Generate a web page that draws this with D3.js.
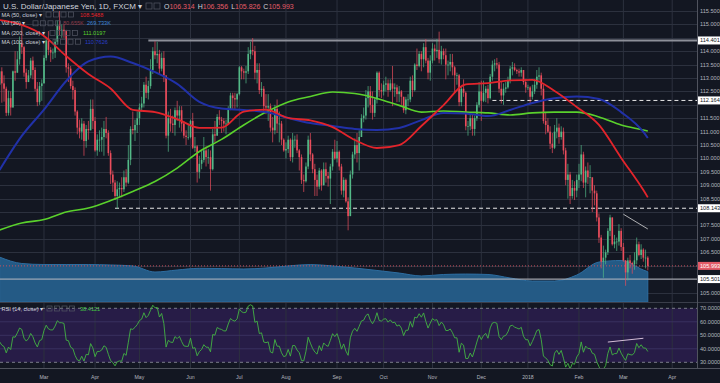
<!DOCTYPE html>
<html>
<head>
<meta charset="utf-8">
<script src="https://cdn.jsdelivr.net/npm/d3@7"></script>
<style>
  body { margin: 0; background: #131722; }
  svg { display: block; font-family: "Liberation Sans", Arial, sans-serif; }
</style>
</head>
<body>
<div class="viz"></div>
<script>
// daily USDJPY bars, Feb 1 2017 .. Mar 16 2018 (weekdays)
const firstOpen = 112.75;
const closes = [
  // Feb 2017
  113.25,112.80,112.60,111.70,112.25,111.90,113.25,113.20,113.70,114.30,114.15,113.20,112.85,113.10,113.65,113.30,112.60,112.10,112.70,112.80,
  // Mar
  113.75,114.40,114.05,113.95,113.95,114.35,114.95,114.80,114.80,114.75,113.40,113.35,112.70,112.55,111.75,111.15,111.00,111.30,110.65,111.10,111.05,111.85,111.40,
  // Apr
  110.30,110.70,110.70,110.80,111.10,110.95,110.20,109.40,109.10,108.60,108.85,108.90,108.85,109.30,109.10,109.95,111.10,111.05,111.25,111.50,
  // May
  111.90,112.05,112.75,112.45,112.70,113.30,114.00,113.85,113.90,113.35,113.75,113.10,110.85,111.50,111.30,111.25,111.80,111.60,111.80,111.30,110.85,110.80,110.80,
  // Jun
  111.40,110.40,110.45,109.50,109.80,109.95,110.30,110.05,110.05,109.60,110.90,110.85,111.55,111.45,111.40,111.30,111.30,111.85,112.35,112.25,112.20,112.40,
  // Jul
  113.40,113.25,113.20,113.25,113.90,114.05,114.00,113.20,113.30,112.55,112.60,111.95,111.90,111.95,111.15,111.05,111.85,111.30,111.30,110.70,110.30,
  // Aug
  110.35,110.70,110.05,110.70,110.70,110.30,110.05,109.20,109.15,109.70,110.70,110.15,109.60,109.20,108.95,109.55,109.00,109.60,109.35,109.25,109.70,110.25,110.00,
  // Sep
  110.25,109.70,108.80,109.20,108.40,107.85,109.40,110.15,110.50,110.20,110.80,111.50,111.60,112.25,112.50,112.00,111.70,112.20,113.20,112.55,112.50,
  // Oct
  112.75,112.80,112.55,112.80,112.60,112.65,112.40,112.50,112.30,111.80,112.20,112.20,112.90,112.55,113.50,113.45,113.90,113.70,114.15,113.65,113.20,113.65,
  // Nov
  114.10,114.00,114.05,113.70,114.00,113.85,113.50,113.50,113.60,113.40,113.10,113.10,112.10,112.60,112.45,111.20,111.20,111.50,111.10,111.50,112.00,112.50,
  // Dec
  112.15,112.45,112.60,112.25,113.05,113.50,113.55,113.50,112.60,112.35,112.60,112.65,112.90,113.35,113.40,113.30,113.25,113.20,113.30,112.85,112.65,
  // Jan 2018
  112.65,112.30,112.50,112.75,113.05,113.10,112.60,111.40,111.25,111.00,110.55,110.40,111.00,111.15,110.80,111.00,110.30,109.20,109.40,108.60,108.90,108.80,109.20,
  // Feb
  109.40,110.15,109.10,109.55,109.30,109.30,108.80,108.70,107.80,107.05,106.15,106.30,106.50,107.30,107.80,106.80,106.90,106.90,107.30,106.70,
  // Mar
  106.20,105.75,106.20,106.10,106.05,106.20,106.80,106.40,106.60,106.30,106.30,105.993
];
const highs = [
  113.95,113.40,113.10,112.68,112.53,112.50,113.28,114.00,114.00,114.55,114.95,114.20,113.35,113.30,113.75,113.80,113.40,112.85,112.85,112.95,
  113.85,114.50,114.75,114.15,114.10,114.45,115.15,115.50,115.00,115.00,114.80,113.55,113.45,112.90,112.65,111.80,111.45,111.50,111.40,111.25,111.40,112.20,112.20,
  111.55,110.90,111.05,111.15,111.40,111.55,111.05,110.30,109.55,109.20,109.15,109.10,109.30,109.55,109.60,110.50,111.20,111.75,111.45,111.75,
  112.05,112.30,112.85,113.05,112.90,113.70,114.15,114.37,114.35,114.05,113.95,114.00,113.00,111.75,111.85,111.60,111.90,112.15,111.95,111.95,111.40,111.05,111.30,
  111.45,111.70,110.80,110.50,110.10,110.30,110.80,110.45,110.35,110.30,111.10,111.40,111.65,111.80,111.55,111.50,111.45,111.95,112.45,112.45,112.45,112.45,
  113.45,113.45,113.35,113.45,114.15,114.35,114.49,114.20,113.55,113.55,112.85,112.70,112.40,112.40,112.05,111.55,112.00,112.20,111.75,111.40,110.75,
  110.60,110.85,110.75,110.95,110.85,110.90,110.35,110.15,109.40,109.85,110.85,110.95,110.20,109.80,109.40,109.65,109.60,109.85,109.85,109.50,109.80,110.35,110.70,
  110.65,110.30,109.80,109.30,109.25,108.55,109.55,110.25,110.75,110.95,111.05,111.65,111.90,112.55,112.70,112.70,112.50,112.25,113.25,113.25,112.80,
  112.90,113.05,112.95,112.95,113.45,112.80,112.75,112.70,112.55,112.30,112.30,112.40,113.05,113.10,113.55,114.10,114.00,114.00,114.30,114.45,113.75,113.85,
  114.30,114.25,114.45,114.73,114.20,114.10,114.10,113.65,113.90,113.90,113.45,113.20,113.15,112.70,112.95,112.50,111.40,111.70,111.65,111.60,112.10,112.85,
  112.90,112.90,112.70,112.75,113.15,113.65,113.70,113.75,113.60,112.85,112.80,112.85,113.05,113.45,113.60,113.55,113.35,113.35,113.40,113.30,112.95,
  112.75,112.70,112.75,112.95,113.30,113.40,113.20,112.75,111.70,111.50,111.20,110.95,111.25,111.50,111.30,111.20,111.15,110.40,109.80,109.50,109.20,109.15,109.40,
  109.80,110.50,110.25,109.70,109.85,109.75,109.20,109.00,108.80,107.95,107.15,106.75,106.60,107.40,107.90,107.80,107.15,107.05,107.55,107.40,
  106.85,106.20,106.30,106.40,106.15,106.50,107.05,106.90,106.80,106.65,106.60,106.356
];
const lows = [
  112.75,112.08,112.12,111.58,111.60,111.60,111.90,112.90,113.20,113.50,113.90,113.05,112.60,112.85,113.00,112.95,112.50,111.95,112.00,112.15,
  112.80,113.65,113.85,113.60,113.70,113.75,114.25,114.60,114.50,114.50,113.20,112.85,112.60,112.20,111.60,110.90,110.75,110.70,110.10,110.40,110.70,111.05,111.10,
  110.25,110.10,110.25,110.25,110.10,110.75,110.10,109.05,108.75,108.45,108.13,108.55,108.55,108.75,108.95,109.05,109.75,110.90,110.65,110.95,
  111.25,111.75,111.90,112.25,112.20,112.60,113.15,113.70,113.55,113.15,113.25,112.85,110.75,110.25,111.00,110.95,110.85,111.40,111.15,111.00,110.75,110.50,110.70,
  110.75,110.35,110.25,109.10,109.25,109.60,109.85,109.70,109.80,108.80,109.55,110.60,110.85,111.25,110.95,111.00,110.90,111.25,111.80,111.85,111.85,111.90,
  112.35,112.95,112.95,112.80,113.15,113.70,113.85,112.95,112.80,112.40,112.30,111.70,111.65,111.40,111.00,110.60,110.90,110.95,110.60,110.50,110.25,
  110.00,110.20,109.90,109.85,110.40,110.20,109.55,109.05,108.75,109.10,109.60,109.90,109.45,108.60,108.60,108.85,108.80,109.00,109.10,108.95,108.30,109.55,109.95,
  109.85,109.55,108.65,108.55,108.35,107.32,107.85,109.25,110.00,109.85,109.55,110.80,111.35,111.45,111.90,111.70,111.45,111.55,112.05,112.30,112.25,
  112.35,112.50,112.30,112.50,111.95,112.30,112.10,112.10,112.00,111.70,111.65,111.95,112.10,112.30,112.50,113.30,113.40,113.25,113.40,113.55,112.95,112.90,
  113.55,113.65,113.75,113.55,113.50,113.70,112.95,113.10,113.25,113.10,112.45,112.75,111.95,111.95,112.30,111.05,110.85,111.05,110.85,110.85,111.40,111.90,
  111.40,112.10,112.10,112.05,112.20,112.90,113.25,113.35,112.45,112.05,112.00,112.45,112.60,112.80,113.10,113.25,113.15,113.05,113.05,112.75,112.45,
  112.55,112.05,112.20,112.40,112.60,112.90,112.35,111.30,110.90,110.95,110.35,110.20,110.35,110.75,110.55,110.70,110.15,109.00,108.50,108.30,108.50,108.45,108.55,
  108.90,109.15,108.90,108.55,109.05,108.70,108.00,108.25,107.65,106.85,105.90,105.55,106.05,106.40,107.10,106.75,106.65,106.55,106.75,106.55,
  106.15,105.25,105.45,105.90,105.70,105.85,106.05,106.35,106.25,106.15,105.90,105.826
];

// indicator values, one every 10 bars (plus the last bar)
const knotBars = [0,10,20,30,40,50,60,70,80,90,100,110,120,130,140,150,160,170,180,190,200,210,220,230,240,250,260,270,280,290,292];
const ma50 = [115.16,114.98,114.57,113.82,113.15,112.61,111.81,111.73,111.47,111.14,111.15,111.75,111.82,111.51,111.42,111.17,110.69,110.39,110.50,111.21,111.99,112.76,112.81,112.91,112.93,112.52,111.92,111.25,110.02,108.82,108.549];
const ma100 = [109.57,110.84,111.82,112.89,113.62,113.80,113.56,113.22,112.78,112.11,111.86,111.81,111.73,111.51,111.32,111.21,111.10,111.06,111.14,111.43,111.70,111.68,111.58,111.81,112.07,112.25,112.31,112.22,111.73,110.99,110.763];
const ma200 = [107.33,107.59,107.72,108.00,108.15,108.43,108.77,109.14,109.64,110.26,110.71,111.25,111.73,112.11,112.31,112.48,112.42,112.24,111.98,111.73,111.77,111.73,111.70,111.62,111.70,111.73,111.73,111.55,111.25,111.06,111.020];
const volMA = [400,343,334,334,334,330,321,267,285,300,298,294,303,321,334,321,303,281,258,232,245,249,245,214,187,187,240,356,370,285,269.7];

// RSI(14) smoothing state carried in from January 2017 (avg gain, avg loss)
const rsiSeed = [0.25, 0.35];

// horizontal levels drawn on the chart and the bar they start from
const levelPrices = [114.401, 112.164, 108.143, 105.501];
const levelStart = [67, 222, 52, 0];
const lastPrice = 105.993;
// hand-drawn trend lines: [bar, value] pairs
const priceTrend = [[281, 107.92], [292, 107.37]];
const rsiTrend = [[274, 45.0], [290, 47.8]];

const W = 720, H = 383;
const plotR = 697, priceBot = 302, rsiTop = 303, rsiBot = 368;
const upC = "#53b987", dnC = "#eb4d5c";

const dates = d3.timeDay.range(new Date(2017, 1, 1), new Date(2018, 3, 7))
    .filter(d => d.getDay() % 6 !== 0);
const n = closes.length;
const opens = closes.map((c, i) => i ? closes[i - 1] : firstOpen);

const x = d3.scaleLinear().domain([0, n - 1]).range([-0.4, 647.8]);
const y = d3.scaleLinear().domain([106.5, 115.5]).range([252.3, 11]);
const yv = d3.scaleLinear().domain([0, 400]).range([priceBot, 257.1]);
const yr = d3.scaleLinear().domain([30, 70]).range([362.3, 308.3]);

// RSI from the closes
let ag = rsiSeed[0], al = rsiSeed[1];
const rsi = closes.map((c, i) => {
    const ch = c - (i ? closes[i - 1] : firstOpen);
    ag = (ag * 13 + Math.max(ch, 0)) / 14;
    al = (al * 13 + Math.max(-ch, 0)) / 14;
    return 100 - 100 / (1 + ag / al);
});

const svg = d3.select(".viz").append("svg").attr("width", W).attr("height", H);
svg.append("rect").attr("width", W).attr("height", H).attr("fill", "#131722");

svg.append("clipPath").attr("id", "plotclip")
    .append("rect").attr("x", 0).attr("y", 0).attr("width", plotR).attr("height", priceBot);
svg.append("clipPath").attr("id", "rsiclip")
    .append("rect").attr("x", 0).attr("y", rsiTop).attr("width", plotR).attr("height", rsiBot - rsiTop);

// RSI band
svg.append("rect").attr("x", 0).attr("y", yr(70)).attr("width", plotR)
    .attr("height", yr(30) - yr(70)).attr("fill", "#271c47");

// month ticks
const monthIdx = dates.map((d, i) => i).filter(i => i > 0 && dates[i].getMonth() !== dates[i - 1].getMonth());
const monthLabel = i => dates[i].getMonth() === 0 ? d3.timeFormat("%Y")(dates[i]) : d3.timeFormat("%b")(dates[i]);

const grid = svg.append("g");
grid.selectAll("line.v").data(monthIdx).join("line")
    .attr("x1", i => x(i)).attr("x2", i => x(i))
    .attr("y1", 0).attr("y2", rsiBot)
    .attr("stroke", "#2c313e").attr("stroke-width", 1);
const priceTicks = d3.range(105, 115.51, 0.5);
grid.selectAll("line.h").data(priceTicks).join("line")
    .attr("x1", 0).attr("x2", plotR)
    .attr("y1", d => Math.round(y(d)) + 0.5).attr("y2", d => Math.round(y(d)) + 0.5)
    .attr("stroke", "#2c313e").attr("stroke-width", 1);
grid.selectAll("line.r").data([60, 50, 40]).join("line")
    .attr("x1", 0).attr("x2", plotR)
    .attr("y1", d => yr(d)).attr("y2", d => yr(d))
    .attr("stroke", "#3a3160").attr("stroke-width", 1);

// volume average area
const plot = svg.append("g").attr("clip-path", "url(#plotclip)");
plot.append("path")
    .datum(knotBars.map((b, k) => [b, volMA[k]]))
    .attr("fill", "#245a85")
    .attr("stroke", "#2d6da0").attr("stroke-width", 1)
    .attr("d", d3.area().curve(d3.curveMonotoneX)
        .x(d => x(d[0])).y0(priceBot).y1(d => yv(d[1])));

// levels
plot.selectAll("line.lvl").data(levelPrices).join("line")
    .attr("x1", (d, k) => x(levelStart[k])).attr("x2", plotR)
    .attr("y1", d => y(d)).attr("y2", d => y(d))
    .attr("stroke", (d, k) => k === 0 ? "#8d9099" : (k === 3 ? "#b8bbc2" : "#e8e8e8"))
    .attr("stroke-width", (d, k) => k === 0 ? 2 : 1)
    .attr("stroke-dasharray", (d, k) => (k === 1 || k === 2) ? "4,3" : null);
plot.append("line")
    .attr("x1", 0).attr("x2", plotR).attr("y1", y(lastPrice)).attr("y2", y(lastPrice))
    .attr("stroke", "#c9505c").attr("stroke-width", 1).attr("stroke-dasharray", "1,2");

// candles
const bars = plot.selectAll("g.bar").data(d3.range(n)).join("g");
bars.append("line")
    .attr("x1", i => x(i)).attr("x2", i => x(i))
    .attr("y1", i => y(highs[i])).attr("y2", i => y(lows[i]))
    .attr("stroke", i => closes[i] >= opens[i] ? upC : dnC).attr("stroke-width", 0.7);
bars.append("rect")
    .attr("x", i => x(i) - 0.8).attr("width", 1.6)
    .attr("y", i => y(Math.max(opens[i], closes[i])))
    .attr("height", i => Math.max(0.7, Math.abs(y(opens[i]) - y(closes[i]))))
    .attr("fill", i => closes[i] >= opens[i] ? upC : dnC);

// moving averages
const maLine = d3.line().curve(d3.curveMonotoneX).x(d => x(d[0])).y(d => y(d[1]));
[[ma200, "#5ad12c", 1.6], [ma100, "#2131a8", 2], [ma50, "#e3242b", 1.8]].forEach(([vals, col, w]) => {
    plot.append("path")
        .datum(knotBars.map((b, k) => [b, vals[k]]))
        .attr("fill", "none").attr("stroke", col).attr("stroke-width", w)
        .attr("d", maLine);
});

plot.append("line")
    .attr("x1", x(priceTrend[0][0])).attr("y1", y(priceTrend[0][1]))
    .attr("x2", x(priceTrend[1][0])).attr("y2", y(priceTrend[1][1]))
    .attr("stroke", "#d8d8d8").attr("stroke-width", 0.8);

// RSI pane
const rp = svg.append("g").attr("clip-path", "url(#rsiclip)");
rp.selectAll("line.rd").data([70, 30]).join("line")
    .attr("x1", 0).attr("x2", plotR)
    .attr("y1", d => yr(d)).attr("y2", d => yr(d))
    .attr("stroke", "#7b7e8a").attr("stroke-width", 1).attr("stroke-dasharray", "3,3");
rp.append("path").datum(rsi)
    .attr("fill", "none").attr("stroke", "#43b343").attr("stroke-width", 0.9)
    .attr("d", d3.line().x((d, i) => x(i)).y(d => yr(d)));
rp.append("line")
    .attr("x1", x(rsiTrend[0][0])).attr("y1", yr(rsiTrend[0][1]))
    .attr("x2", x(rsiTrend[1][0])).attr("y2", yr(rsiTrend[1][1]))
    .attr("stroke", "#e6cfe6").attr("stroke-width", 0.9);

// separators
svg.append("line").attr("x1", 0).attr("x2", W).attr("y1", priceBot + 0.5).attr("y2", priceBot + 0.5)
    .attr("stroke", "#3a3e4a");
svg.append("line").attr("x1", 0).attr("x2", W).attr("y1", rsiBot + 0.5).attr("y2", rsiBot + 0.5)
    .attr("stroke", "#50535e");
svg.append("line").attr("x1", plotR + 0.5).attr("x2", plotR + 0.5).attr("y1", 0).attr("y2", rsiBot)
    .attr("stroke", "#50535e");

// price axis (plain ticks that sit under a highlighted tag are left out)
const axTxt = "#b2b5be";
const tagPrices = levelPrices.concat([lastPrice]);
const freeTicks = priceTicks.filter(d => tagPrices.every(v => Math.abs(y(d) - y(v)) >= 7));
svg.selectAll("text.pt").data(freeTicks).join("text")
    .attr("x", 700).attr("y", d => y(d) + 2)
    .attr("fill", axTxt).attr("font-size", 5.6)
    .text(d => d3.format(".3f")(d));
svg.selectAll("text.rt").data([70, 60, 50, 40, 30]).join("text")
    .attr("x", 700).attr("y", d => yr(d) + 2)
    .attr("fill", axTxt).attr("font-size", 5.6)
    .text(d => d3.format(".4f")(d));

// highlighted price labels
const tags = levelPrices.map(v => ({ v, bg: "#ffffff", fg: "#131722" }))
    .concat([{ v: lastPrice, bg: "#e35b67", fg: "#ffffff" }]);
const tg = svg.selectAll("g.tag").data(tags).join("g")
    .attr("transform", d => `translate(698,${y(d.v)})`);
tg.append("rect").attr("x", 0).attr("y", -4).attr("width", 22).attr("height", 8).attr("fill", d => d.bg);
tg.append("text").attr("x", 2).attr("y", 2).attr("font-size", 5.6).attr("fill", d => d.fg)
    .text(d => d3.format(".3f")(d.v));

// time axis
svg.selectAll("text.mt").data(monthIdx.filter(i => x(i) > 10)).join("text")
    .attr("x", i => x(i)).attr("y", 379)
    .attr("text-anchor", "middle").attr("fill", axTxt).attr("font-size", 5.2)
    .text(monthLabel);

// legend
const lg = svg.append("g").attr("fill", "#d1d4dc");
function boxes(x0, yc, count, step, size) {
    for (let k = 0; k < count; k++) {
        lg.append("rect").attr("x", x0 + k * step).attr("y", yc - size / 2)
            .attr("width", size).attr("height", size)
            .attr("fill", "none").attr("stroke", "#545864").attr("stroke-width", 0.7);
    }
}
lg.append("text").attr("x", 3).attr("y", 9).attr("font-size", 8).text("U.S. Dollar/Japanese Yen, 1D, FXCM \u25BE");
boxes(146, 6, 2, 8, 6);
const ohlc = lg.append("text").attr("x", 164).attr("y", 9).attr("font-size", 7);
[["O", "106.314"], ["H", "106.356"], ["L", "105.826"], ["C", "105.993"]].forEach(([k, v], j) => {
    ohlc.append("tspan").attr("fill", "#d1d4dc").attr("dx", j ? 3 : 0).text(k);
    ohlc.append("tspan").attr("fill", "#e35b67").text(v);
});

const rows = [
    { t: "MA (50, close) \u25BE", yc: 14.5, bx: 46, vals: [["108.5488", "#e3242b", 80]] },
    { t: "Vol (20) \u25BE", yc: 23.3, bx: 33, vals: [["80.655K", "#8e3a48", 63], ["269.733K", "#3d85d6", 87]] },
    { t: "MA (200, close) \u25BE", yc: 33, bx: 50, vals: [["111.0197", "#5ad12c", 83]] },
    { t: "MA (100, close) \u25BE", yc: 41.7, bx: 53, vals: [["110.7626", "#2a3ec8", 85]] },
    { t: "RSI (14, close) \u25BE", yc: 308.5, bx: 47, vals: [["38.4121", "#43c443", 80]] }
];
rows.forEach(r => {
    lg.append("text").attr("x", 1.5).attr("y", r.yc + 2).attr("font-size", 5.6).text(r.t);
    boxes(r.bx, r.yc, 4, 7.5, 5);
    r.vals.forEach(([v, c, vx]) => {
        lg.append("text").attr("x", vx).attr("y", r.yc + 2).attr("font-size", 5.6).attr("fill", c).text(v);
    });
});
</script>
</body>
</html>
